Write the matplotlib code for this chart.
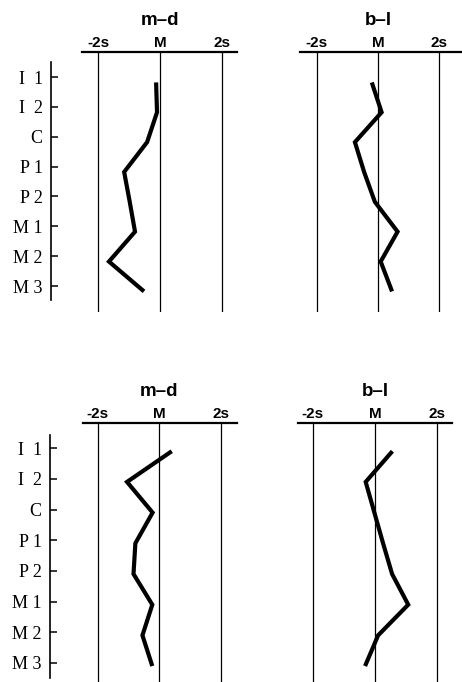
import numpy as np
import matplotlib.pyplot as plt

W, H = 462, 682

teeth = ['I  1', 'I  2', 'C', 'P 1', 'P 2', 'M 1', 'M 2', 'M 3']
top_md = [-0.13, -0.10, -0.42, -1.16, -0.98, -0.81, -1.65, -0.52]
top_bl = [-0.20, 0.12, -0.75, -0.45, -0.10, 0.64, 0.09, 0.46]
bot_md = [0.40, -1.05, -0.22, -0.78, -0.84, -0.23, -0.55, -0.23]
bot_bl = [0.56, -0.30, -0.02, 0.26, 0.55, 1.07, 0.10, -0.32]
sd_ticks = [-2, 0, 2]
sd_labels = ['-2s', 'M', '2s']

fig = plt.figure(figsize=(W / 100, H / 100), dpi=100)
fig.patch.set_facecolor('white')
sans = ['Liberation Sans', 'DejaVu Sans']


def box(x0, y0, x1, y1):
    return [x0 / W, 1 - y1 / H, (x1 - x0) / W, (y1 - y0) / H]


def panel(px, py, xlim, ylim, vbottom, title, values, shift):
    ax = fig.add_axes(box(px[0], py[0], px[1], py[1]))
    ax.set_xlim(xlim)
    ax.set_ylim(ylim)
    ax.patch.set_alpha(0)
    for s in ['left', 'right', 'bottom']:
        ax.spines[s].set_visible(False)
    ax.spines['top'].set_linewidth(1.6)
    ax.xaxis.tick_top()
    ax.set_xticks(sd_ticks)
    ax.set_xticklabels(sd_labels, fontsize=11, fontweight='bold', family=sans)
    ax.tick_params(axis='x', length=0, pad=1.5)
    ax.set_yticks([])
    ax.vlines(sd_ticks, ylim[1], vbottom, color='black', lw=0.9)
    idx = np.arange(len(values)) + shift
    ax.plot(values, idx, color='black', lw=3, solid_joinstyle='miter',
            solid_capstyle='butt')
    ax.annotate(title, xy=(0, 1), xycoords=('data', 'axes fraction'),
                xytext=(0, 23), textcoords='offset points', ha='center',
                va='center', fontsize=13.5, fontweight='bold', family=sans)
    return ax


def category_axis(x, py, ylim, bounds):
    ax = fig.add_axes(box(x, py[0], x + 10, py[1]))
    ax.set_ylim(ylim)
    ax.patch.set_alpha(0)
    for s in ['top', 'right', 'bottom']:
        ax.spines[s].set_visible(False)
    ax.spines['left'].set_linewidth(1.2)
    ax.spines['left'].set_bounds(*bounds)
    ax.set_xticks([])
    ax.set_yticks(range(len(teeth)))
    ax.set_yticklabels(teeth, fontsize=13, family=['Liberation Serif', 'DejaVu Serif'])
    ax.tick_params(axis='y', direction='in', length=5, width=1.1, pad=6)


# top row
top_ylim = (7.87, -0.84)
category_axis(51, (52, 312), top_ylim, (-0.5, 7.47))
panel((82, 237), (52, 312), (-2.52, 2.48), top_ylim, 7.87, 'm–d', top_md, 0.18)
panel((300, 462), (52, 312), (-2.54, 2.74), top_ylim, 7.87, 'b–l', top_bl, 0.18)

# bottom row
bot_ylim = (7.62, -0.82)
category_axis(50, (423, 682), bot_ylim, (-0.42, 7.49))
panel((83, 237), (423, 682), (-2.48, 2.52), bot_ylim, 7.62, 'm–d', bot_md, 0.1)
panel((298, 452), (423, 682), (-2.48, 2.48), bot_ylim, 7.62, 'b–l', bot_bl, 0.1)

fig.savefig('out.png', dpi=100, facecolor='white')
